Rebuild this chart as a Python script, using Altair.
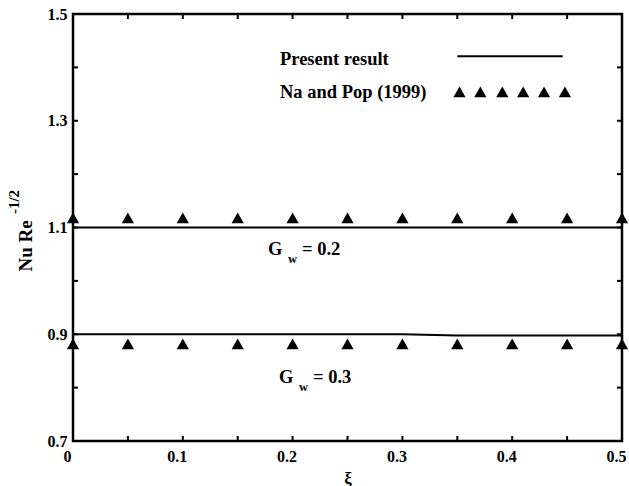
import altair as alt
import pandas as pd

# ---- data ----
xi_pts = [0.0, 0.05, 0.10, 0.15, 0.20, 0.25, 0.30, 0.35, 0.40, 0.45, 0.50]
present_gw02 = [1.100, 1.100, 1.100, 1.100, 1.100, 1.100, 1.100, 1.100, 1.100, 1.100, 1.100]
present_gw03 = [0.900, 0.900, 0.900, 0.900, 0.900, 0.900, 0.900, 0.8975, 0.8975, 0.8975, 0.8975]
napop_gw02 = [1.118, 1.118, 1.118, 1.118, 1.118, 1.118, 1.118, 1.118, 1.118, 1.118, 1.118]
napop_gw03 = [0.882, 0.882, 0.882, 0.882, 0.882, 0.882, 0.882, 0.882, 0.882, 0.882, 0.882]

x_ticks = [0.0, 0.05, 0.10, 0.15, 0.20, 0.25, 0.30, 0.35, 0.40, 0.45, 0.50]
x_labels = [0.0, 0.1, 0.2, 0.3, 0.4, 0.5]
y_ticks = [0.7, 0.8, 0.9, 1.0, 1.1, 1.2, 1.3, 1.4, 1.5]
y_labels = [0.7, 0.9, 1.1, 1.3, 1.5]

legend_tri_x = [0.352, 0.371, 0.391, 0.410, 0.429, 0.448]
legend_tri_y = 1.354
legend_line_x = [0.350, 0.446]
legend_line_y = 1.421

W, H = 549, 427
FONT = "Liberation Serif"

lines = pd.DataFrame({
    "xi": xi_pts * 2,
    "nu": present_gw02 + present_gw03,
    "series": ["Gw=0.2"] * len(xi_pts) + ["Gw=0.3"] * len(xi_pts),
})
tris = pd.DataFrame({
    "xi": xi_pts * 2,
    "nu": napop_gw02 + napop_gw03,
})

xs = alt.Scale(domain=[0, 0.5], nice=False, zero=False)
ys = alt.Scale(domain=[0.7, 1.5], nice=False, zero=False)

x_axis = alt.Axis(values=x_labels, format=".1~f", ticks=False, domain=False, grid=False,
                  labelFont=FONT, labelFontWeight="bold", labelFontSize=16, labelPadding=7,
                  labelOffset=-6, labelFlush=False,
                  title="ξ", titleFont=FONT, titleFontWeight="bold", titleFontSize=17,
                  titlePadding=6)
y_axis = alt.Axis(values=y_labels, format=".1f", ticks=False, domain=False, grid=False,
                  labelFont=FONT, labelFontWeight="bold", labelFontSize=16, labelPadding=6,
                  labelFlush=False, title=None)

base_line = alt.Chart(lines).mark_line(color="black", strokeWidth=2).encode(
    x=alt.X("xi:Q", scale=xs, axis=x_axis),
    y=alt.Y("nu:Q", scale=ys, axis=y_axis),
    detail="series:N",
)

TRI = 150
tri_layer = alt.Chart(tris).mark_point(shape="triangle-up", filled=True, color="black",
                                       size=TRI, opacity=1).encode(
    x=alt.X("xi:Q", scale=xs), y=alt.Y("nu:Q", scale=ys))

# inward ticks on all four sides
xt = pd.DataFrame({"t": x_ticks})
yt = pd.DataFrame({"t": y_ticks})
tick_b = alt.Chart(xt).mark_rule(color="black", strokeWidth=2).encode(
    x=alt.X("t:Q", scale=xs), y=alt.value(H), y2=alt.value(H - 5))
tick_t = alt.Chart(xt).mark_rule(color="black", strokeWidth=2).encode(
    x=alt.X("t:Q", scale=xs), y=alt.value(0), y2=alt.value(5))
tick_l = alt.Chart(yt).mark_rule(color="black", strokeWidth=2).encode(
    y=alt.Y("t:Q", scale=ys), x=alt.value(0), x2=alt.value(5))
tick_r = alt.Chart(yt).mark_rule(color="black", strokeWidth=2).encode(
    y=alt.Y("t:Q", scale=ys), x=alt.value(W), x2=alt.value(W - 5))

# legend
leg_line = alt.Chart(pd.DataFrame({"x": [legend_line_x[0]], "x2": [legend_line_x[1]],
                                   "y": [legend_line_y]})).mark_rule(
    color="black", strokeWidth=2).encode(
    x=alt.X("x:Q", scale=xs), x2="x2:Q", y=alt.Y("y:Q", scale=ys))
leg_tri = alt.Chart(pd.DataFrame({"x": legend_tri_x, "y": [legend_tri_y] * 6})).mark_point(
    shape="triangle-up", filled=True, color="black", size=TRI, opacity=1).encode(
    x=alt.X("x:Q", scale=xs), y=alt.Y("y:Q", scale=ys))

txt_kw = dict(font=FONT, fontWeight="bold", color="black")
legend_text = pd.DataFrame({"label": ["Present result", "Na and Pop (1999)"],
                            "x": [0.1885, 0.1885], "y": [legend_line_y - 0.005, legend_tri_y]})
leg_txt = alt.Chart(legend_text).mark_text(align="left", baseline="middle", fontSize=18.5,
                                           **txt_kw).encode(
    x=alt.X("x:Q", scale=xs), y=alt.Y("y:Q", scale=ys), text="label:N")

# G_w annotations
ann = pd.DataFrame({"x": [0.1776, 0.1876], "y": [1.060, 0.8202], "val": ["= 0.2", "= 0.3"]})
ann_G = alt.Chart(ann).mark_text(align="left", baseline="middle", fontSize=18.5, **txt_kw).encode(
    x=alt.X("x:Q", scale=xs), y=alt.Y("y:Q", scale=ys), text=alt.value("G"))
ann_w = alt.Chart(ann).mark_text(align="left", baseline="middle", fontSize=12.5, dx=20, dy=10,
                                 **txt_kw).encode(
    x=alt.X("x:Q", scale=xs), y=alt.Y("y:Q", scale=ys), text=alt.value("w"))
ann_v = alt.Chart(ann).mark_text(align="left", baseline="middle", fontSize=18.5, dx=34,
                                 **txt_kw).encode(
    x=alt.X("x:Q", scale=xs), y=alt.Y("y:Q", scale=ys), text="val:N")

# y-axis title with superscript
ytitle = alt.Chart(pd.DataFrame({"a": [0]})).mark_text(
    angle=270, align="center", baseline="middle", fontSize=19, **txt_kw).encode(
    x=alt.value(-47), y=alt.value(232), text=alt.value("Nu Re"))
ytitle_sup = alt.Chart(pd.DataFrame({"a": [0]})).mark_text(
    angle=270, align="center", baseline="middle", fontSize=15, **txt_kw).encode(
    x=alt.value(-59), y=alt.value(188), text=alt.value("-1/2"))

chart = alt.layer(
    base_line, tri_layer, tick_b, tick_t, tick_l, tick_r,
    leg_line, leg_tri, leg_txt, ann_G, ann_w, ann_v, ytitle, ytitle_sup,
).properties(
    width=W, height=H,
    autosize=alt.AutoSizeParams(type="none"),
    padding={"left": 73, "top": 14, "right": 7, "bottom": 45},
    background="white",
).configure_view(stroke="black", strokeWidth=2.5)

chart.save("out.html", embed_options={"renderer": "svg", "actions": False})
